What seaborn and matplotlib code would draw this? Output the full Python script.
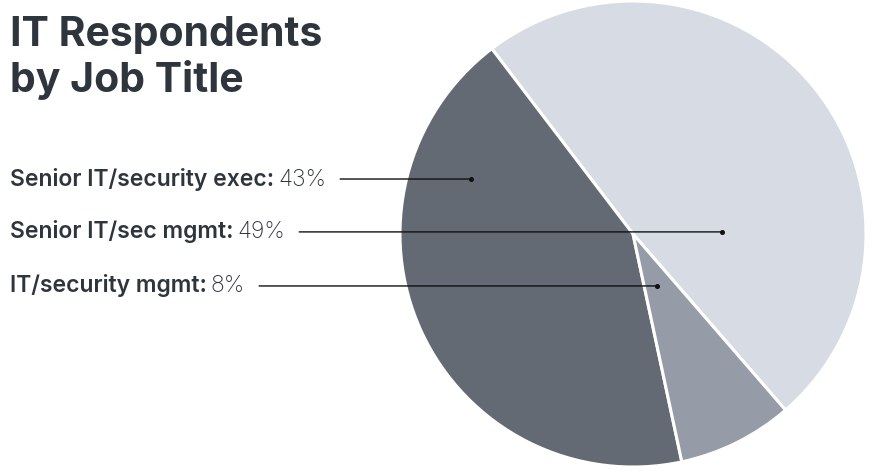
import matplotlib
matplotlib.use("Agg")
import matplotlib.pyplot as plt
import seaborn as sns

# ---- data ----
slice_names = ["Senior IT/sec mgmt", "Senior IT/security exec", "IT/security mgmt"]
slice_shares = [49, 43, 8]
slice_colors = ["#d6dbe4", "#646a74", "#959ba7"]

label_names = ["Senior IT/security exec:", "Senior IT/sec mgmt:", "IT/security mgmt:"]
label_values = ["43%", "49%", "8%"]
# anchor points of the leader lines inside the pie (pie data coordinates)
anchor_x = [-0.695, 0.382, 0.103]
anchor_y = [0.236, 0.009, -0.223]

title = "IT Respondents\nby Job Title"

# ---- style ----
sns.set_theme(style="white")
plt.rcParams["font.family"] = ["Inter", "DejaVu Sans"]
text_color = "#2f353d"

W, H = 872, 472
fig = plt.figure(figsize=(W / 100, H / 100), dpi=100)
fig.patch.set_facecolor("white")

ax = fig.add_axes([400 / W, 5 / H, 466 / W, 466 / H])
ax.pie(slice_shares, colors=slice_colors, startangle=-49.1, counterclock=True,
       radius=1, wedgeprops=dict(edgecolor="white", linewidth=2.2))
ax.set_xlim(-1, 1)
ax.set_ylim(-1, 1)
ax.set_aspect("equal")
ax.axis("off")

fig.text(10 / W, 1 - 16 / H, title, fontsize=29.5, fontweight="bold",
         color=text_color, va="top", ha="left", linespacing=1.2)

fig.canvas.draw()
renderer = fig.canvas.get_renderer()

for name, val, x, y in zip(label_names, label_values, anchor_x, anchor_y):
    px, py = ax.transData.transform((x, y))
    t1 = fig.text(10 / W, (py - 6.5) / H, name, fontsize=16.5, fontweight="semibold",
                  color=text_color, va="baseline", ha="left")
    bb = t1.get_window_extent(renderer)
    t2 = fig.text((bb.x1 + 4) / W, (py - 6.5) / H, val, fontsize=16.5,
                  fontweight="light", color=text_color, va="baseline", ha="left")
    bb2 = t2.get_window_extent(renderer)
    ax.annotate("", xy=(x, y), xycoords="data",
                xytext=(bb2.x1 + 14, py), textcoords="figure pixels",
                arrowprops=dict(arrowstyle="-", color="#111111", lw=1.0,
                                shrinkA=0, shrinkB=0), annotation_clip=False)
    ax.plot([x], [y], marker="o", markersize=2.6, color="#111111")

fig.savefig("out.png", dpi=100, facecolor="white")
